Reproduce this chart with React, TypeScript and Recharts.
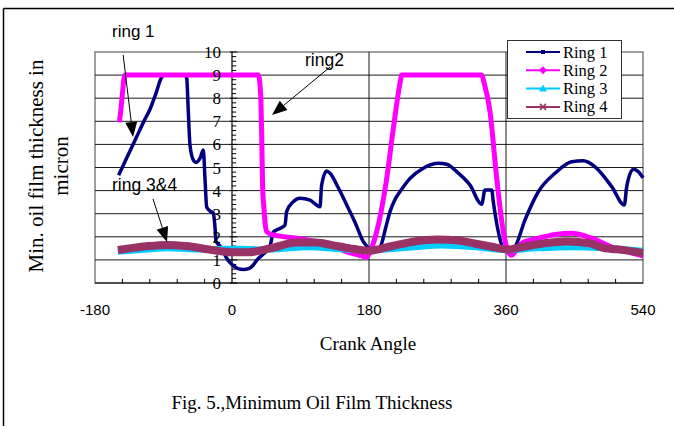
import React from 'react';
import { LineChart, Line, XAxis, YAxis, ReferenceLine, ReferenceArea, ReferenceDot, Legend } from 'recharts';

// crank angle (deg) / min film thickness (micron)
const ring1: [number, number][] = [
  [-149, 4.66], [-135, 5.65], [-125, 6.35], [-115, 7.05], [-108, 7.5], [-100, 8.2], [-92, 8.93],
  [-88, 9.0], [-62, 9.0], [-59.5, 8.86], [-57.4, 7.42], [-55.2, 5.97], [-50.8, 5.32], [-47.3, 5.22],
  [-42, 5.4], [-37.7, 5.76], [-35.5, 4.53], [-33.3, 3.3], [-29, 3.12], [-24.5, 3.02], [-22.3, 2.4],
  [-21, 1.8], [-15.8, 1.6], [-13.5, 1.5], [-7, 1.07], [-2.6, 0.88], [1.8, 0.75], [8, 0.62],
  [14.8, 0.58], [22, 0.62], [28, 0.78], [32.4, 0.98], [41, 1.25], [50, 1.6], [54.3, 2.2],
  [62, 2.35], [69.6, 2.5], [71.8, 3.09], [80.5, 3.52], [89.3, 3.67], [102.5, 3.59], [115.6, 3.3],
  [117.8, 4.24], [124.4, 4.85], [128.8, 4.75], [140, 4.1], [150.7, 3.38], [162, 2.6], [172.5, 1.79],
  [177, 1.6], [183, 1.45], [192, 1.45], [196.7, 1.72], [202, 2.4], [207.6, 3.09], [214, 3.6],
  [220.7, 3.95], [233.9, 4.53], [251.4, 4.97], [271.1, 5.18], [282.1, 5.14], [295.2, 4.82],
  [312.7, 4.24], [328.1, 3.41], [332.4, 4.03], [341.2, 4.03], [343.3, 3.52], [349.9, 2.22],
  [354.3, 1.65], [358, 1.45], [366, 1.45], [371.8, 1.57], [385, 2.73], [402.5, 3.95], [424.4, 4.75],
  [446.3, 5.25], [461.6, 5.29], [477, 5.03], [498.9, 4.17], [515.5, 3.38], [518.6, 4.17],
  [527.3, 4.92], [533.8, 4.82], [540, 4.55],
];

const ring2: [number, number][] = [
  [-148, 6.96], [-146, 7.5], [-144, 8.2], [-141.5, 8.93], [-140, 9.0], [34.6, 9.0], [37.7, 8.14],
  [39, 6.41], [40.3, 4.1], [42, 3.23], [43.5, 2.6], [45.6, 2.22], [54.3, 2.08], [85, 1.94],
  [110, 1.8], [128.8, 1.65], [150.7, 1.35], [170, 1.18], [177, 1.12], [181.3, 1.35], [190.1, 2.22],
  [203.3, 4.53], [212, 6.7], [221, 8.7], [223, 9.0], [328.1, 9.0], [331, 8.7], [339, 7.42],
  [347.8, 4.53], [356.5, 2.22], [363, 1.35], [367.5, 1.2], [372, 1.35], [380.6, 1.72], [402.5, 1.94],
  [425, 2.1], [446.3, 2.15], [472.6, 1.94], [503.2, 1.5], [520, 1.35], [540, 1.17],
];

const ring3: [number, number][] = [
  [-150, 1.35], [-110, 1.45], [-85, 1.5], [-40, 1.45], [-10, 1.48], [10, 1.48], [50, 1.45],
  [100, 1.55], [150, 1.45], [180, 1.42], [240, 1.55], [275, 1.62], [320, 1.55], [360, 1.42],
  [400, 1.5], [450, 1.55], [490, 1.5], [540, 1.4],
];

const ring4: [number, number][] = [
  [-150, 1.43], [-130, 1.52], [-110, 1.6], [-85, 1.65], [-60, 1.6], [-30, 1.45], [0, 1.33],
  [20, 1.33], [50, 1.5], [85, 1.75], [110, 1.75], [130, 1.65], [155, 1.5], [180, 1.4], [210, 1.6],
  [240, 1.8], [270, 1.88], [295, 1.85], [320, 1.7], [345, 1.55], [362, 1.45], [380, 1.55],
  [410, 1.72], [440, 1.8], [470, 1.72], [490, 1.5], [505, 1.46], [520, 1.4], [540, 1.3],
];

const ANGLE_TICKS = [-180, 0, 180, 360, 540];
const ANGLE_GRID = [180, 360];
const MINOR_ANGLE_TICKS = [-144, -108, -72, -36, 36, 72, 108, 144, 216, 252, 288, 324, 396, 432, 468, 504];
const THICKNESS_TICKS = [0, 1, 2, 3, 4, 5, 6, 7, 8, 9, 10];
const THICKNESS_GRID = [1, 2, 3, 4, 5, 6, 7, 8, 9];
const MINOR_THICKNESS_TICKS = Array.from({ length: 51 }, (_, i) => +(i * 0.2).toFixed(1));

// annotation arrows in data coords: [fromAngle, fromH, toAngle, toH]
const ARROWS: [number, number, number, number][] = [
  [-143, 9.87, -130, 6.32],
  [128.8, 9.35, 52.6, 7.27],
  [-103.8, 3.64, -85.4, 1.77],
];

const toPoints = (d: [number, number][]) => d.map(([a, h]) => ({ a, h }));

const SERIES = [
  { name: 'Ring 1', data: toPoints(ring1), color: '#000080', width: 3.5, marker: 'square' },
  { name: 'Ring 2', data: toPoints(ring2), color: '#FF00FF', width: 5, marker: 'diamond' },
  { name: 'Ring 3', data: toPoints(ring3), color: '#00CCFF', width: 6, marker: 'triangle' },
  { name: 'Ring 4', data: toPoints(ring4), color: '#993366', width: 8, marker: 'cross' },
];

const TIMES = '"Liberation Serif", "Times New Roman", serif';
const ARIAL = '"Liberation Sans", Arial, sans-serif';

const Arrow = (p: any) => {
  const { x1, y1, x2, y2 } = p;
  const dx = x2 - x1;
  const dy = y2 - y1;
  const len = Math.hypot(dx, dy) || 1;
  const ux = dx / len;
  const uy = dy / len;
  const hl = 15;
  const hw = 6;
  const bx = x2 - ux * hl;
  const by = y2 - uy * hl;
  return (
    <g>
      <line x1={x1} y1={y1} x2={bx} y2={by} stroke="#000" strokeWidth={1} />
      <polygon
        points={`${x2},${y2} ${bx - uy * hw},${by + ux * hw} ${bx + uy * hw},${by - ux * hw}`}
        fill="#000"
      />
    </g>
  );
};

const Marker = ({ kind, x, y, color }: { kind: string; x: number; y: number; color: string }) => {
  if (kind === 'square') return <rect x={x - 2} y={y - 2} width={4} height={4} fill={color} />;
  if (kind === 'diamond') return <polygon points={`${x},${y - 4} ${x + 4},${y} ${x},${y + 4} ${x - 4},${y}`} fill={color} />;
  if (kind === 'triangle') return <polygon points={`${x},${y - 4} ${x + 4},${y + 3} ${x - 4},${y + 3}`} fill={color} />;
  return (
    <g stroke={color} strokeWidth={1.5}>
      <line x1={x - 3} y1={y - 3} x2={x + 3} y2={y + 3} />
      <line x1={x - 3} y1={y + 3} x2={x + 3} y2={y - 3} />
    </g>
  );
};

const LegendBox = () => (
  <svg width={115} height={79} style={{ display: 'block' }}>
    <rect x={0.5} y={0.5} width={114} height={78} fill="#fff" stroke="#333" />
    {SERIES.map((s, i) => {
      const cy = 12 + i * 18.3;
      return (
        <g key={s.name}>
          <line x1={19} y1={cy} x2={53} y2={cy} stroke={s.color} strokeWidth={2} />
          <Marker kind={s.marker} x={36} y={cy} color={s.color} />
          <text x={56} y={cy + 5.5} fontFamily={TIMES} fontSize={16.5} fill="#000">
            {s.name}
          </text>
        </g>
      );
    })}
  </svg>
);

export default function App() {
  return (
    <div style={{ position: 'absolute', left: 0, top: 0, width: 674, height: 426, background: '#fff' }}>
      <LineChart width={674} height={426} margin={{ top: 52, right: 31, bottom: 113, left: 95 }}>
        <XAxis
          type="number"
          dataKey="a"
          domain={[-180, 540]}
          ticks={ANGLE_TICKS}
          tickLine={false}
          axisLine={{ stroke: '#000' }}
          height={30}
          tickMargin={15}
          tick={{ fontSize: 15, fontFamily: ARIAL, fill: '#000' }}
        />
        <YAxis type="number" domain={[0, 10]} ticks={THICKNESS_TICKS} hide width={0} />

        <ReferenceArea x1={-180} x2={540} y1={0} y2={10} fill="none" stroke="#808080" strokeWidth={1.5} />
        {THICKNESS_GRID.map((v) => (
          <ReferenceLine key={`h${v}`} y={v} stroke="#1a1a1a" strokeWidth={1} />
        ))}
        {ANGLE_GRID.map((v) => (
          <ReferenceLine key={`v${v}`} x={v} stroke="#1a1a1a" strokeWidth={1} />
        ))}
        <ReferenceLine x={0} stroke="#000" strokeWidth={1.2} />
        {MINOR_THICKNESS_TICKS.map((v) => (
          <ReferenceLine
            key={`ty${v}`}
            segment={Number.isInteger(v) ? [{ x: -3, y: v }, { x: 7, y: v }] : [{ x: 0, y: v }, { x: 5.5, y: v }]}
            stroke="#000"
            strokeWidth={1}
          />
        ))}
        {MINOR_ANGLE_TICKS.map((v) => (
          <ReferenceLine key={`tx${v}`} segment={[{ x: v, y: 0 }, { x: v, y: 0.18 }]} stroke="#000" strokeWidth={1} />
        ))}

        {SERIES.map((s) => (
          <Line
            key={s.name}
            data={s.data}
            dataKey="h"
            name={s.name}
            type="monotone"
            stroke={s.color}
            strokeWidth={s.width}
            strokeLinejoin="round"
            dot={false}
            activeDot={false}
            isAnimationActive={false}
          />
        ))}

        {THICKNESS_TICKS.map((v) => (
          <ReferenceDot
            key={`l${v}`}
            x={0}
            y={v}
            r={0}
            fill="none"
            stroke="none"
            ifOverflow="visible"
            label={{ value: String(v), position: 'left', offset: 11, fill: '#000', fontSize: 17, fontFamily: TIMES }}
          />
        ))}

        {ARROWS.map(([a1, h1, a2, h2], i) => (
          <ReferenceLine
            key={`arr${i}`}
            segment={[{ x: a1, y: h1 }, { x: a2, y: h2 }]}
            ifOverflow="visible"
            shape={Arrow}
          />
        ))}

        <Legend
          layout="vertical"
          align="center"
          verticalAlign="middle"
          content={() => <LegendBox />}
          wrapperStyle={{ position: 'absolute', left: 507, top: 40, width: 115, height: 79 }}
        />
      </LineChart>

      <svg
        width={674}
        height={426}
        style={{ position: 'absolute', left: 0, top: 0, pointerEvents: 'none' }}
      >
        <line x1={3.5} y1={8.5} x2={674} y2={8.5} stroke="#000" strokeWidth={1.5} />
        <line x1={3.5} y1={8.5} x2={3.5} y2={426} stroke="#000" strokeWidth={1.5} />

        <text transform="translate(43,166) rotate(-90)" textAnchor="middle" fontFamily={TIMES} fontSize={21}>
          Min. oil film thickness in
        </text>
        <text transform="translate(68,166) rotate(-90)" textAnchor="middle" fontFamily={TIMES} fontSize={21}>
          micron
        </text>

        <text x={368} y={350} textAnchor="middle" fontFamily={TIMES} fontSize={19}>
          Crank Angle
        </text>
        <text x={312} y={409} textAnchor="middle" fontFamily={TIMES} fontSize={19}>
          Fig. 5.,Minimum Oil Film Thickness
        </text>

        <text x={112} y={37} fontFamily={ARIAL} fontSize={17}>ring 1</text>
        <text x={305} y={65.5} fontFamily={ARIAL} fontSize={17.5}>ring2</text>
        <text x={112} y={191} fontFamily={ARIAL} fontSize={17.5}>ring 3&amp;4</text>
      </svg>
    </div>
  );
}
